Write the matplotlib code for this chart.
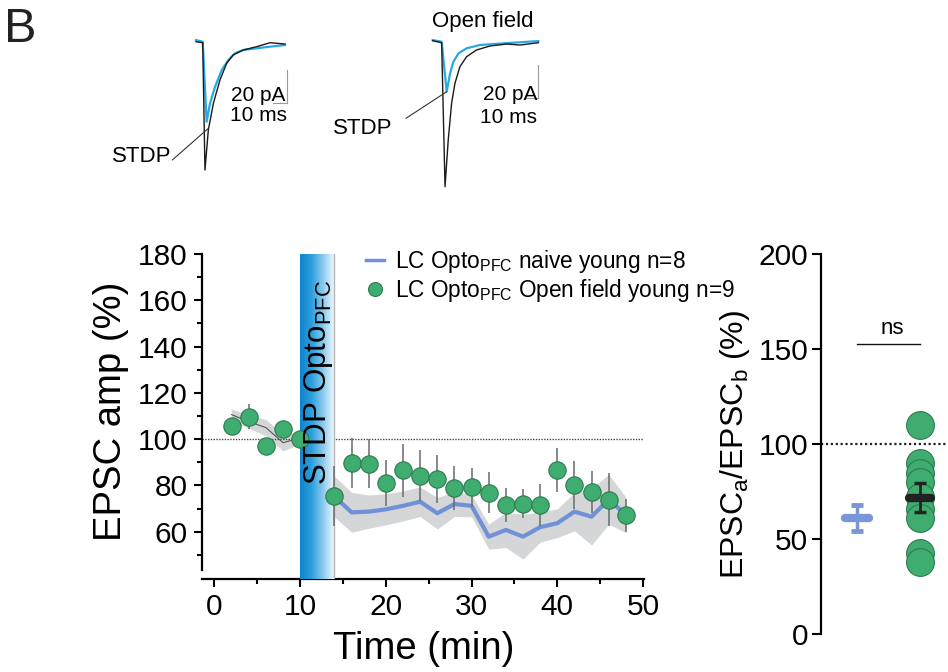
import numpy as np
import matplotlib
matplotlib.use('Agg')
import matplotlib.pyplot as plt
from matplotlib.colors import LinearSegmentedColormap
from matplotlib.lines import Line2D

plt.rcParams['font.family'] = ['Liberation Sans', 'DejaVu Sans']
plt.rcParams['mathtext.fontset'] = 'custom'
plt.rcParams['mathtext.rm'] = 'Liberation Sans'
plt.rcParams['mathtext.it'] = 'Liberation Sans:italic'
plt.rcParams['mathtext.bf'] = 'Liberation Sans:bold'

# ---------------- data ----------------
# Open field group (green points, mean +/- SEM)
open_time = [2, 4, 6, 8, 10, 14, 16, 18, 20, 22, 24, 26, 28, 30, 32, 34, 36, 38, 40, 42, 44, 46, 48]
open_mean = [105.8, 109.8, 97.1, 104.3, 100.0, 75.5, 89.6, 89.3, 81.2, 86.5, 84.3, 82.7, 78.9, 79.2,
             76.9, 71.5, 72.2, 71.5, 86.7, 80.2, 77.1, 73.8, 67.2]
open_sem = [2.5, 5.3, 2.0, 2.6, 1.5, 12.8, 10.8, 10.6, 10.0, 11.4, 11.2, 10.4, 9.7, 8.3,
            9.0, 7.2, 6.3, 9.2, 9.4, 10.4, 9.2, 11.5, 7.1]

# Naive group baseline (thin line + band)
naive_base_time = [2, 4, 6, 8, 10]
naive_base_mean = [110.6, 107.6, 105.0, 98.5, 100.5]
naive_base_sem = [2.4, 2.9, 3.5, 3.6, 2.6]

# Naive group after STDP (blue line + band)
naive_time = [14, 16, 18, 20, 22, 24, 26, 28, 30, 32, 34, 36, 38, 40, 42, 44, 46, 48]
naive_mean = [75.2, 68.4, 68.7, 69.7, 71.2, 73.0, 68.0, 72.0, 71.2, 57.9, 60.8, 57.9, 62.0,
              63.7, 68.7, 66.5, 74.0, 67.3]
naive_sem = [8.8, 8.6, 7.2, 6.7, 6.5, 6.4, 6.8, 5.4, 4.7, 5.4, 7.6, 9.7, 6.5, 6.2, 8.3,
             12.2, 10.8, 7.6]

# Summary panel
naive_summary_mean = 61.2
naive_summary_sem = 6.85
open_summary_values = [110, 90, 85, 80, 72, 66, 61, 42.5, 38]

# Example traces (time in ms, current in pA)
tr1_black_t = [0, 4.8, 6.4, 8.8, 12.4, 17.1, 21.9, 26.6, 33.8, 43.4, 52.9, 63.6]
tr1_black_i = [0, -0.6, -77.8, -53.5, -37.4, -23.2, -13.1, -8.0, -5.0, -3.0, -0.6, -1.4]
tr1_blue_t = [0, 4.8, 7.6, 10.0, 13.6, 18.4, 23.1, 27.9, 33.8, 43.4, 52.9, 63.6]
tr1_blue_i = [1.0, 0, -48.5, -37.4, -27.3, -17.1, -11.1, -7.0, -5.0, -4.0, -3.0, -2.0]

tr2_black_t = [0, 6.4, 8.8, 11.1, 13.5, 15.9, 19.4, 24.2, 31.3, 40.9, 52.8, 62.4, 75.5]
tr2_black_i = [0, -1.2, -88.5, -60.2, -37.9, -25.8, -15.8, -9.7, -5.6, -3.2, -2.0, -2.6, -1.2]
tr2_blue_t = [0, 6.4, 10.0, 12.4, 14.8, 18.4, 24.2, 33.7, 50.4, 75.5]
tr2_blue_i = [0.4, -0.6, -30.9, -19.8, -12.7, -7.7, -4.6, -2.6, -1.6, -0.2]

# ---------------- style ----------------
GREEN = '#3fad6f'
GREEN_EDGE = '#2d7a4f'
BLUE_LINE = '#7090d8'
BLUE_SUM = '#7b96d6'
BAND = '#d4d6d7'
TRACE_BLUE = '#29a9e1'
TRACE_BLACK = '#1a1a1a'

W, H = 948, 672
fig = plt.figure(figsize=(W / 100, H / 100), dpi=100)


def px_axes(left, top, right, bottom):
    return fig.add_axes([left / W, 1 - bottom / H, (right - left) / W, (bottom - top) / H])


# ---------------- main time-course panel ----------------
ax = px_axes(201.7, 254, 644.3, 579)

cmap = LinearSegmentedColormap.from_list('stdp', ['#0d84cf', '#2e9fdc', '#8ccbee', '#f7fbfe'])
ax.imshow(np.linspace(0, 1, 256)[None, :], extent=[10, 14, 39.6, 180], aspect='auto',
          cmap=cmap, zorder=3, interpolation='bilinear')
ax.plot([14, 14], [39.6, 180], color='#b5b5b5', lw=1, zorder=3.1)

ax.axhline(100, color='#444444', lw=1, ls=(0, (1, 1)), zorder=1.5)

nb_m = np.array(naive_base_mean)
nb_s = np.array(naive_base_sem)
ax.fill_between(naive_base_time, nb_m - nb_s, nb_m + nb_s, color=BAND, lw=0, zorder=1)
ax.plot(naive_base_time, nb_m, color='#555555', lw=0.8, zorder=2)

n_m = np.array(naive_mean)
n_s = np.array(naive_sem)
ax.fill_between(naive_time, n_m - n_s, n_m + n_s, color=BAND, lw=0, zorder=1)
ax.plot(naive_time, n_m, color=BLUE_LINE, lw=3, zorder=2.5)

ax.errorbar(open_time, open_mean, yerr=open_sem, fmt='none', ecolor='#6a6a6a',
            elinewidth=1.1, capsize=0, zorder=4)
ax.plot(open_time, open_mean, 'o', ms=12.5, mfc=GREEN, mec=GREEN_EDGE, mew=0.8, zorder=5)

ax.text(12.1, 80, r'STDP Opto$_{\mathrm{PFC}}$', rotation=90, ha='center', va='bottom',
        fontsize=22.5, zorder=6)

ax.set_xlim(-1.49, 50.15)
ax.set_ylim(39.6, 180)
ax.set_xticks([0, 10, 20, 30, 40, 50])
ax.set_xticks([5, 15, 25, 35, 45], minor=True)
ax.set_yticks([60, 80, 100, 120, 140, 160, 180])
ax.set_yticks([50, 70, 90, 110, 130, 150, 170], minor=True)
ax.tick_params(which='major', labelsize=21.5, width=1.5, length=6, pad=4)
ax.tick_params(which='minor', width=1.5, length=3.5)
for s in ['top', 'right']:
    ax.spines[s].set_visible(False)
for s in ['left', 'bottom']:
    ax.spines[s].set_linewidth(1.6)
ax.spines['left'].set_bounds(43.5, 180)
ax.patch.set_alpha(0)

handles = [Line2D([], [], color=BLUE_LINE, lw=2.5),
           Line2D([], [], marker='o', ls='', mfc=GREEN, mec=GREEN_EDGE, mew=0.8, ms=10)]
labels = [r'LC Opto$_{\mathrm{PFC}}$ naive young n=8',
          r'LC Opto$_{\mathrm{PFC}}$ Open field young n=9']
fig.legend(handles, labels, loc='upper left', bbox_to_anchor=(366 / W, 1 - 248 / H),
           frameon=False, fontsize=16.3, handlelength=0.8, handletextpad=0.5,
           labelspacing=0.1, borderpad=0, borderaxespad=0)

fig.text(111 / W, 1 - 411.7 / H, 'EPSC amp (%)', rotation=90, ha='center', va='center',
         fontsize=27.5)
fig.text(424 / W, 1 - 649 / H, 'Time (min)', ha='center', va='center', fontsize=27.5)

# ---------------- summary panel ----------------
rax = px_axes(820.7, 254, 948, 634)
rax.set_xlim(-0.584, 1.447)
rax.set_ylim(0, 200)
rax.axhline(100, color='#222222', lw=1.6, ls=(0, (1, 1.2)), zorder=1)

rax.plot([-0.19, 0.19], [naive_summary_mean] * 2, color=BLUE_SUM, lw=6,
         solid_capstyle='round', zorder=3)
rax.errorbar([0], [naive_summary_mean], yerr=[naive_summary_sem], fmt='none', ecolor=BLUE_SUM,
             elinewidth=2.5, capsize=4, capthick=3.5, zorder=3)

rax.plot([1] * len(open_summary_values), open_summary_values, 'o', ms=20, mfc=GREEN,
         mec=GREEN_EDGE, mew=0.8, zorder=2)
o_m = np.mean(open_summary_values)
o_s = np.std(open_summary_values, ddof=1) / np.sqrt(len(open_summary_values))
rax.plot([1 - 0.18, 1 + 0.18], [o_m, o_m], color='#222222', lw=6, solid_capstyle='round',
         zorder=4)
rax.errorbar([1], [o_m], yerr=[o_s], fmt='none', ecolor='#222222', elinewidth=2,
             capsize=4, capthick=2.5, zorder=4)

rax.plot([0, 1], [152.6, 152.6], color='#111111', lw=1)
rax.text(0.565, 161, 'ns', ha='center', va='center', fontsize=16)

rax.set_yticks([0, 50, 100, 150, 200])
rax.set_xticks([])
rax.tick_params(axis='y', labelsize=21.5, width=1.5, length=6.5, pad=2.5)
for s in ['top', 'right', 'bottom']:
    rax.spines[s].set_visible(False)
rax.spines['left'].set_linewidth(1.6)
rax.patch.set_alpha(0)

fig.text(735 / W, 1 - 444 / H, r'EPSC$_{\mathrm{a}}$/EPSC$_{\mathrm{b}}$ (%)', rotation=90,
         ha='center', va='center', fontsize=23)

# ---------------- example traces ----------------
t1 = px_axes(190, 30, 300, 180)
t1.set_xlim(-4.29, 74.3)
t1.set_ylim(-83.8, 7.1)
t1.axis('off')
t1.plot(tr1_blue_t, tr1_blue_i, color=TRACE_BLUE, lw=1.6)
t1.plot(tr1_black_t, tr1_black_i, color=TRACE_BLACK, lw=1.0)
t1.plot([64.8, 64.8], [-37.3, -17.3], color='#9a9a9a', lw=0.8)
t1.plot([54.8, 64.8], [-37.3, -37.3], color='#9a9a9a', lw=0.8)
t1.text(63.6, -32.5, '20 pA', ha='right', va='center', fontsize=15)
t1.text(65.0, -45.0, '10 ms', ha='right', va='center', fontsize=15)
t1.annotate('', xy=(8.8, -52.5), xycoords='data', xytext=(172.3, H - 160),
            textcoords='figure pixels',
            arrowprops=dict(arrowstyle='-', color='#333333', lw=0.8, shrinkA=0, shrinkB=0))
fig.text(171.7 / W, 1 - 156 / H, 'STDP', ha='right', va='center', fontsize=16)

t2 = px_axes(420, 30, 550, 195)
t2.set_xlim(-9.07, 83.8)
t2.set_ylim(-93.5, 6.5)
t2.axis('off')
t2.plot(tr2_blue_t, tr2_blue_i, color=TRACE_BLUE, lw=1.6)
t2.plot(tr2_black_t, tr2_black_i, color=TRACE_BLACK, lw=1.0)
t2.plot([74.9, 74.9], [-34.7, -14.7], color='#9a9a9a', lw=0.8)
t2.plot([64.9, 74.9], [-34.7, -34.7], color='#9a9a9a', lw=0.8)
t2.text(74.6, -32.5, '20 pA', ha='right', va='center', fontsize=15)
t2.text(74.6, -46.5, '10 ms', ha='right', va='center', fontsize=15)
t2.annotate('', xy=(10.0, -30.9), xycoords='data', xytext=(406, H - 118.3),
            textcoords='figure pixels',
            arrowprops=dict(arrowstyle='-', color='#333333', lw=0.8, shrinkA=0, shrinkB=0))
fig.text(392 / W, 1 - 128 / H, 'STDP', ha='right', va='center', fontsize=16)

fig.text(482.5 / W, 1 - 26.5 / H, 'Open field', ha='center', va='baseline', fontsize=16)
fig.text(4 / W, 1 - 42 / H, 'B', ha='left', va='baseline', fontsize=35, color='#222222')

fig.savefig('out.png', dpi=100)
